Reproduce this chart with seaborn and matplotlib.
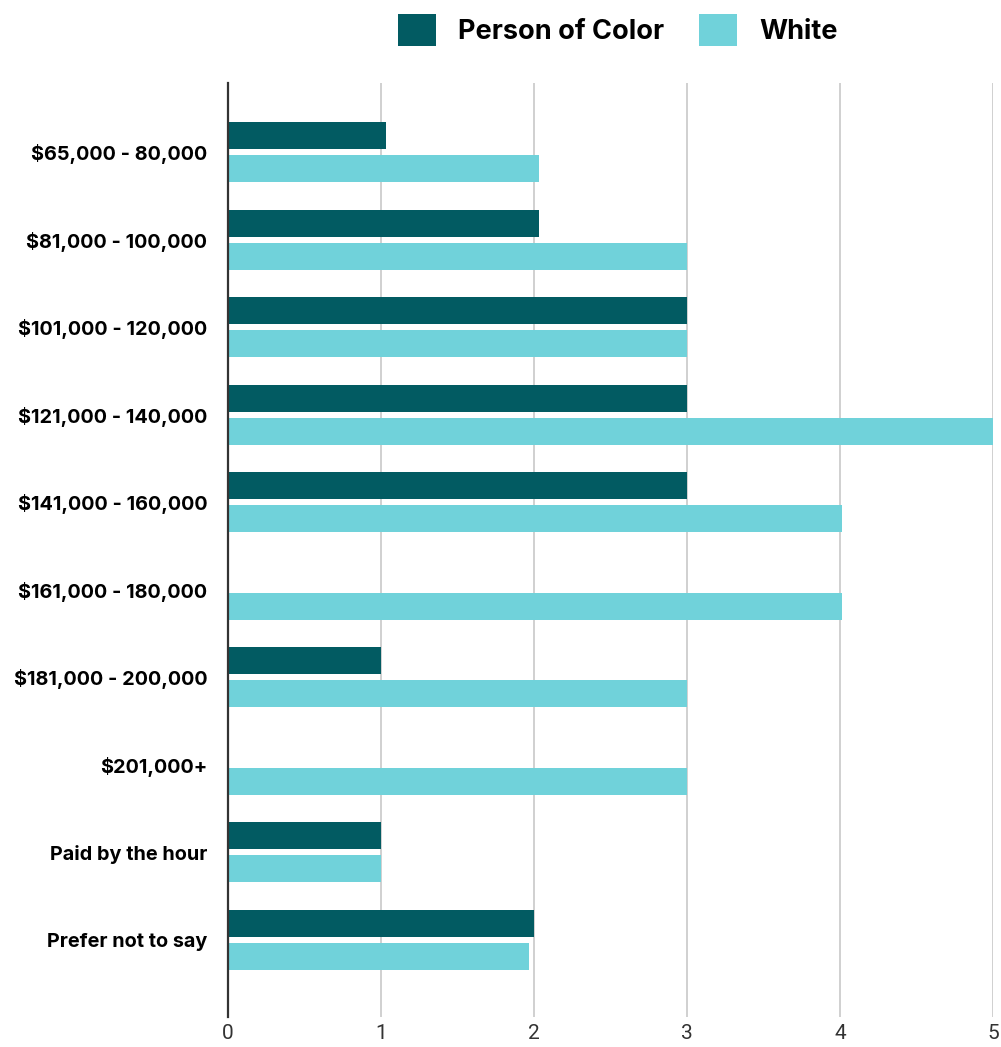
import matplotlib
matplotlib.use("Agg")
import matplotlib.pyplot as plt
from matplotlib.patches import Patch
from matplotlib import font_manager
import pandas as pd
import seaborn as sns

# Salary bands and respondent counts per group
categories = [
    "$65,000 - 80,000",
    "$81,000 - 100,000",
    "$101,000 - 120,000",
    "$121,000 - 140,000",
    "$141,000 - 160,000",
    "$161,000 - 180,000",
    "$181,000 - 200,000",
    "$201,000+",
    "Paid by the hour",
    "Prefer not to say",
]
person_of_color = [1.03, 2.03, 3, 3, 3, 0, 1, 0, 1, 2]
white = [2.03, 3, 3, 5, 4.01, 4.01, 3, 3, 1, 1.97]
groups = ["Person of Color", "White"]
x_ticks = [0, 1, 2, 3, 4, 5]

colors = {"Person of Color": "#025B62", "White": "#70D2DA"}

df = pd.DataFrame({
    "band": categories * 2,
    "count": person_of_color + white,
    "group": [groups[0]] * len(categories) + [groups[1]] * len(categories),
})

sns.set_theme(style="white")
plt.rcParams["font.family"] = ["Inter", "DejaVu Sans"]

available = {f.name for f in font_manager.fontManager.ttflist}
tick_family = "Liberation Sans Narrow" if "Liberation Sans Narrow" in available else "Roboto"

fig = plt.figure(figsize=(10.01, 10.47), dpi=100)
ax = fig.add_axes([0.2278, 0.0287, 0.7642, 0.892])

sns.barplot(
    data=df, y="band", x="count", hue="group", order=categories,
    hue_order=groups, palette=colors, orient="h",
    width=0.754, gap=0.183, saturation=1, legend=False, ax=ax,
    linewidth=0,
)

ax.set_xlim(0, 5)
ax.set_ylim(9.88, -0.79)
ax.set_xticks(x_ticks)
ax.set_xticklabels([str(t) for t in x_ticks], fontfamily=tick_family,
                   fontsize=15, color="#333333")
ax.set_xlabel("")
ax.set_ylabel("")
ax.grid(axis="x", color="#d0d0d0", linewidth=1.4)
ax.set_axisbelow(True)
for side in ["top", "right", "bottom"]:
    ax.spines[side].set_visible(False)
ax.spines["left"].set_color("#333333")
ax.spines["left"].set_linewidth(1.6)
ax.spines["left"].set_zorder(5)

ax.tick_params(axis="x", length=0, pad=5)
ax.tick_params(axis="y", length=0, pad=15)
for lbl in ax.get_yticklabels():
    lbl.set_fontweight("bold")
    lbl.set_fontsize(14.3)
    lbl.set_color("#000000")

handles = [Patch(facecolor=colors[g], edgecolor="none", label=g) for g in groups]
fig.legend(
    handles=handles, loc="center", bbox_to_anchor=(0.617, 0.9715), ncol=2,
    frameon=False, prop={"family": "Inter", "weight": "bold", "size": 19.5},
    handlelength=1.42, handleheight=1.42, handletextpad=0.8, columnspacing=1.3,
    labelcolor="#000000",
)

fig.savefig("out.png", dpi=100, facecolor="white")
